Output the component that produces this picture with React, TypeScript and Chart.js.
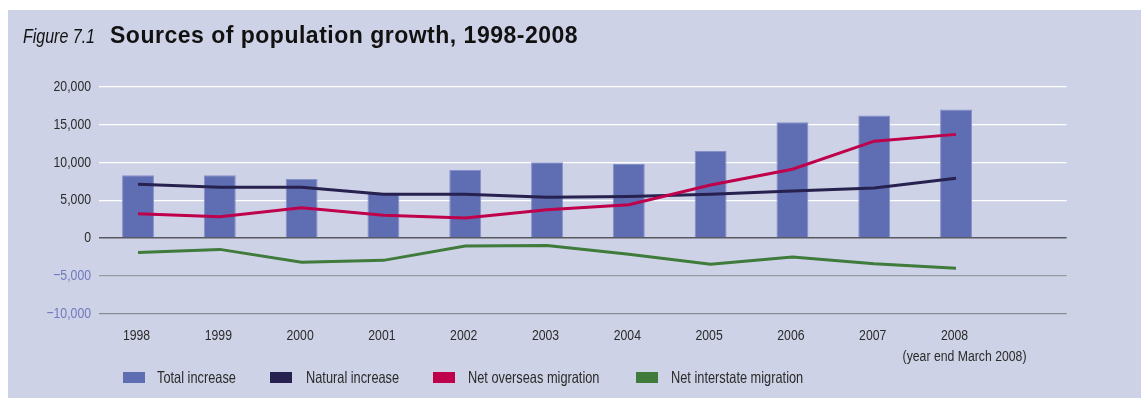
import React, { useEffect, useRef } from "react";
import { Chart, registerables } from "chart.js";

Chart.register(...registerables);

const years = [1998, 1999, 2000, 2001, 2002, 2003, 2004, 2005, 2006, 2007, 2008];
const totalIncrease = [8300, 8300, 7800, 6000, 9000, 10000, 9800, 11500, 15300, 16200, 17000];
const naturalIncrease = [7100, 6700, 6700, 5800, 5800, 5400, 5500, 5800, 6200, 6600, 7900];
const netOverseas = [3200, 2800, 4000, 3000, 2650, 3750, 4400, 7000, 9100, 12800, 13700];
const netInterstate = [-1900, -1500, -3200, -2950, -1050, -1000, -2150, -3450, -2500, -3400, -4000];
const yTicks = [-10000, -5000, 0, 5000, 10000, 15000, 20000];
const seriesNames = ["Total increase", "Natural increase", "Net overseas migration", "Net interstate migration"];
const seriesColors = ["#5f6db3", "#26214f", "#bf004b", "#3f7b3b"];
const yearNote = "(year end March 2008)";
const titlePrefix = "Figure 7.1";
const titleText = "Sources of population growth, 1998-2008";

const FONT = '"Liberation Sans", Arial, sans-serif';
const TICK_SIZE = 15.5;
const NARROW = 0.79;

const fmt = (v: number) => {
  const s = Math.abs(v).toLocaleString("en-US");
  return v < 0 ? "\u2212" + s : s;
};

function narrowText(
  ctx: CanvasRenderingContext2D,
  text: string,
  x: number,
  y: number,
  align: CanvasTextAlign,
  baseline: CanvasTextBaseline,
  color: string
) {
  ctx.save();
  ctx.translate(x, y);
  ctx.scale(NARROW, 1);
  ctx.font = TICK_SIZE + "px " + FONT;
  ctx.fillStyle = color;
  ctx.textAlign = align;
  ctx.textBaseline = baseline;
  ctx.fillText(text, 0, 0);
  ctx.restore();
}

const labelPlugin = {
  id: "narrowLabels",
  afterDraw(chart: any) {
    const ctx = chart.ctx;
    const xs = chart.scales.x;
    const ys = chart.scales.y;
    const area = chart.chartArea;
    ys.ticks.forEach((t: any) => {
      const v = t.value;
      narrowText(ctx, fmt(v), area.left - 8, ys.getPixelForValue(v), "right", "middle", v < 0 ? "#7079bd" : "#2b2b2b");
    });
    xs.ticks.forEach((t: any) => {
      narrowText(ctx, String(t.value), xs.getPixelForValue(t.value) - 1.5, area.bottom + 26.3, "center", "alphabetic", "#2b2b2b");
    });
    narrowText(
      ctx,
      yearNote,
      xs.getPixelForValue(years[years.length - 1]) + 8.5,
      area.bottom + 47.3,
      "center",
      "alphabetic",
      "#2b2b2b"
    );
  },
};

export default function App() {
  const ref = useRef<HTMLCanvasElement | null>(null);

  useEffect(() => {
    if (!ref.current) return;
    const pts = (arr: number[]) => arr.map((v, i) => ({ x: years[i], y: v }));
    const lineDs = (idx: number, arr: number[], order: number) => ({
      type: "line" as const,
      label: seriesNames[idx],
      data: pts(arr),
      borderColor: seriesColors[idx],
      backgroundColor: seriesColors[idx],
      borderWidth: 3,
      pointRadius: 0,
      tension: 0,
      fill: false,
      order,
    });
    const chart = new Chart(ref.current, {
      type: "bar",
      data: {
        datasets: [
          {
            type: "bar",
            label: seriesNames[0],
            data: pts(totalIncrease),
            backgroundColor: seriesColors[0],
            borderColor: "#8590c8",
            borderWidth: 1,
            borderSkipped: "start",
            barPercentage: 0.39,
            categoryPercentage: 1,
            order: 10,
          } as any,
          lineDs(1, naturalIncrease, 3),
          lineDs(2, netOverseas, 2),
          lineDs(3, netInterstate, 1),
        ],
      },
      options: {
        responsive: false,
        animation: false,
        layout: { padding: { left: 0, right: 74.3, top: 76.7, bottom: 0 } },
        plugins: {
          legend: { display: false },
          tooltip: { enabled: false },
          title: { display: false },
        },
        scales: {
          x: {
            type: "linear",
            min: 1997.523,
            max: 2009.353,
            offset: false,
            border: { display: false },
            grid: { display: false, drawTicks: false },
            afterBuildTicks: (scale: any) => {
              scale.ticks = years.map((v) => ({ value: v }));
            },
            afterFit: (scale: any) => {
              scale.height = 84.3;
            },
            ticks: { display: false, autoSkip: false },
          },
          y: {
            type: "linear",
            min: -10000,
            max: 20000,
            border: { display: false },
            afterBuildTicks: (scale: any) => {
              scale.ticks = yTicks.map((v) => ({ value: v }));
            },
            afterFit: (scale: any) => {
              scale.width = 91;
            },
            grid: {
              drawTicks: false,
              color: (c: any) => {
                const v = c.tick ? c.tick.value : 0;
                if (v > 0) return "#ffffff";
                if (v === 0) return "#585860";
                if (v === -5000) return "#9a9aa2";
                return "#8a8a92";
              },
              lineWidth: (c: any) => (c.tick && c.tick.value === 0 ? 1.6 : 1.3),
            },
            ticks: { display: false },
          },
        },
      } as any,
      plugins: [labelPlugin],
    });
    return () => chart.destroy();
  }, []);

  const boxLefts = [114.7, 262, 425.3, 628];
  const textLefts = [149, 297.7, 459.6, 663];

  return (
    <div
      style={{
        position: "absolute",
        left: 8,
        top: 10,
        width: 1133,
        height: 388,
        background: "#ced2e6",
        overflow: "hidden",
      }}
    >
      <canvas ref={ref} width={1133} height={388} style={{ position: "absolute", left: 0, top: 0 }} />
      <div
        style={{
          position: "absolute",
          left: 15,
          top: 16.5,
          whiteSpace: "nowrap",
          color: "#111",
          fontFamily: FONT,
          fontStyle: "italic",
          fontSize: 19.5,
          lineHeight: "19.5px",
          transform: "scaleX(0.82)",
          transformOrigin: "0 0",
        }}
      >
        {titlePrefix}
      </div>
      <div
        style={{
          position: "absolute",
          left: 102,
          top: 13.5,
          whiteSpace: "nowrap",
          color: "#111",
          fontFamily: FONT,
          fontWeight: "bold",
          fontSize: 23,
          lineHeight: "23px",
          letterSpacing: 0.5,
        }}
      >
        {titleText}
      </div>
      {seriesNames.map((name, i) => (
        <React.Fragment key={name}>
          <div
            style={{
              position: "absolute",
              left: boxLefts[i],
              top: 362.3,
              width: 22,
              height: 11,
              background: seriesColors[i],
            }}
          />
          <div
            style={{
              position: "absolute",
              left: textLefts[i],
              top: 359.3,
              whiteSpace: "nowrap",
              fontFamily: FONT,
              fontSize: 16.5,
              lineHeight: "16.5px",
              color: "#2b2b2b",
              transform: "scaleX(0.775)",
              transformOrigin: "0 0",
            }}
          >
            {name}
          </div>
        </React.Fragment>
      ))}
    </div>
  );
}
